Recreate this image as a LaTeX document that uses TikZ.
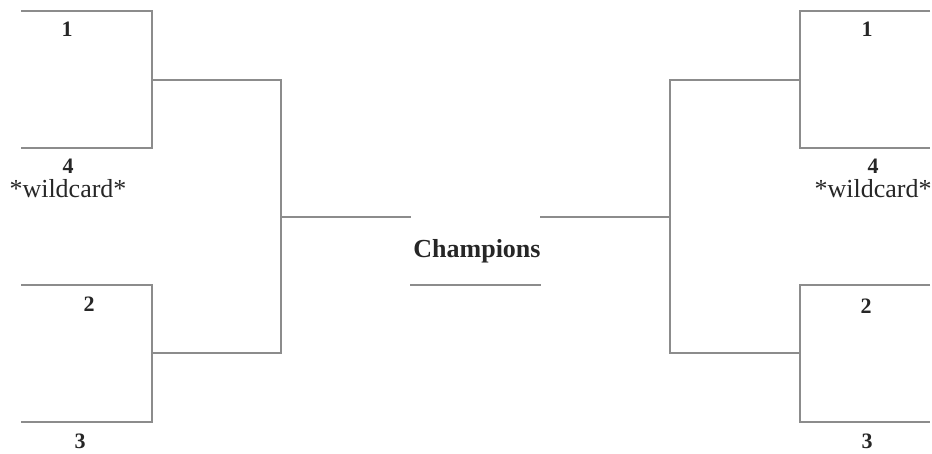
\documentclass[tikz,border=0pt]{standalone}
\usepackage{fontspec}
\setmainfont{Liberation Serif}
\begin{document}
\begin{tikzpicture}[x=1pt,y=-1pt,
  line/.style={draw=black!45,line width=1.6pt},
  seed/.style={font=\fontsize{22}{22}\selectfont\bfseries,inner sep=0pt,text=black!85},
  wild/.style={font=\fontsize{26}{26}\selectfont,inner sep=0pt,text=black!85},
  champ/.style={font=\fontsize{26}{26}\selectfont\bfseries,inner sep=0pt,text=black!85}]
\useasboundingbox (0,0) rectangle (932,453);
% left bracket coordinates
\coordinate (L1a) at (21,11);   \coordinate (L1b) at (152,11);
\coordinate (L4a) at (21,148);  \coordinate (L4b) at (152,148);
\coordinate (L14) at (152,80);  \coordinate (LT) at (281,80);
\coordinate (L2a) at (21,285);  \coordinate (L2b) at (152,285);
\coordinate (L3a) at (21,422);  \coordinate (L3b) at (152,422);
\coordinate (L23) at (152,353); \coordinate (LB) at (281,353);
\coordinate (LM) at (281,217);  \coordinate (LF) at (411,217);
% right bracket coordinates
\coordinate (R1a) at (930,11);  \coordinate (R1b) at (800,11);
\coordinate (R4a) at (930,148); \coordinate (R4b) at (800,148);
\coordinate (R14) at (800,80);  \coordinate (RT) at (670,80);
\coordinate (R2a) at (930,285); \coordinate (R2b) at (800,285);
\coordinate (R3a) at (930,422); \coordinate (R3b) at (800,422);
\coordinate (R23) at (800,353); \coordinate (RB) at (670,353);
\coordinate (RM) at (670,217);  \coordinate (RF) at (540,217);
% champion line
\coordinate (Ca) at (410,285);  \coordinate (Cb) at (541,285);
% left lines
\draw[line] (L1a) -- (L1b) -- (L4b) -- (L4a);
\draw[line] (L2a) -- (L2b) -- (L3b) -- (L3a);
\draw[line] (L14) -- (LT) -- (LB) -- (L23);
\draw[line] (LM) -- (LF);
% right lines
\draw[line] (R1a) -- (R1b) -- (R4b) -- (R4a);
\draw[line] (R2a) -- (R2b) -- (R3b) -- (R3a);
\draw[line] (R14) -- (RT) -- (RB) -- (R23);
\draw[line] (RM) -- (RF);
\draw[line] (Ca) -- (Cb);
% labels
\node[seed] (l1) at (67,29) {1};
\node[seed] (l4) at (68,166) {4};
\node[wild] (lw) at (68,189) {*wildcard*};
\node[seed] (l2) at (89,304) {2};
\node[seed] (l3) at (80,441) {3};
\node[seed] (r1) at (867,29) {1};
\node[seed] (r4) at (873,166) {4};
\node[wild] (rw) at (873,189) {*wildcard*};
\node[seed] (r2) at (866,306) {2};
\node[seed] (r3) at (867,441) {3};
\node[champ] (ch) at (477,251) {Champions};
\end{tikzpicture}
\end{document}
